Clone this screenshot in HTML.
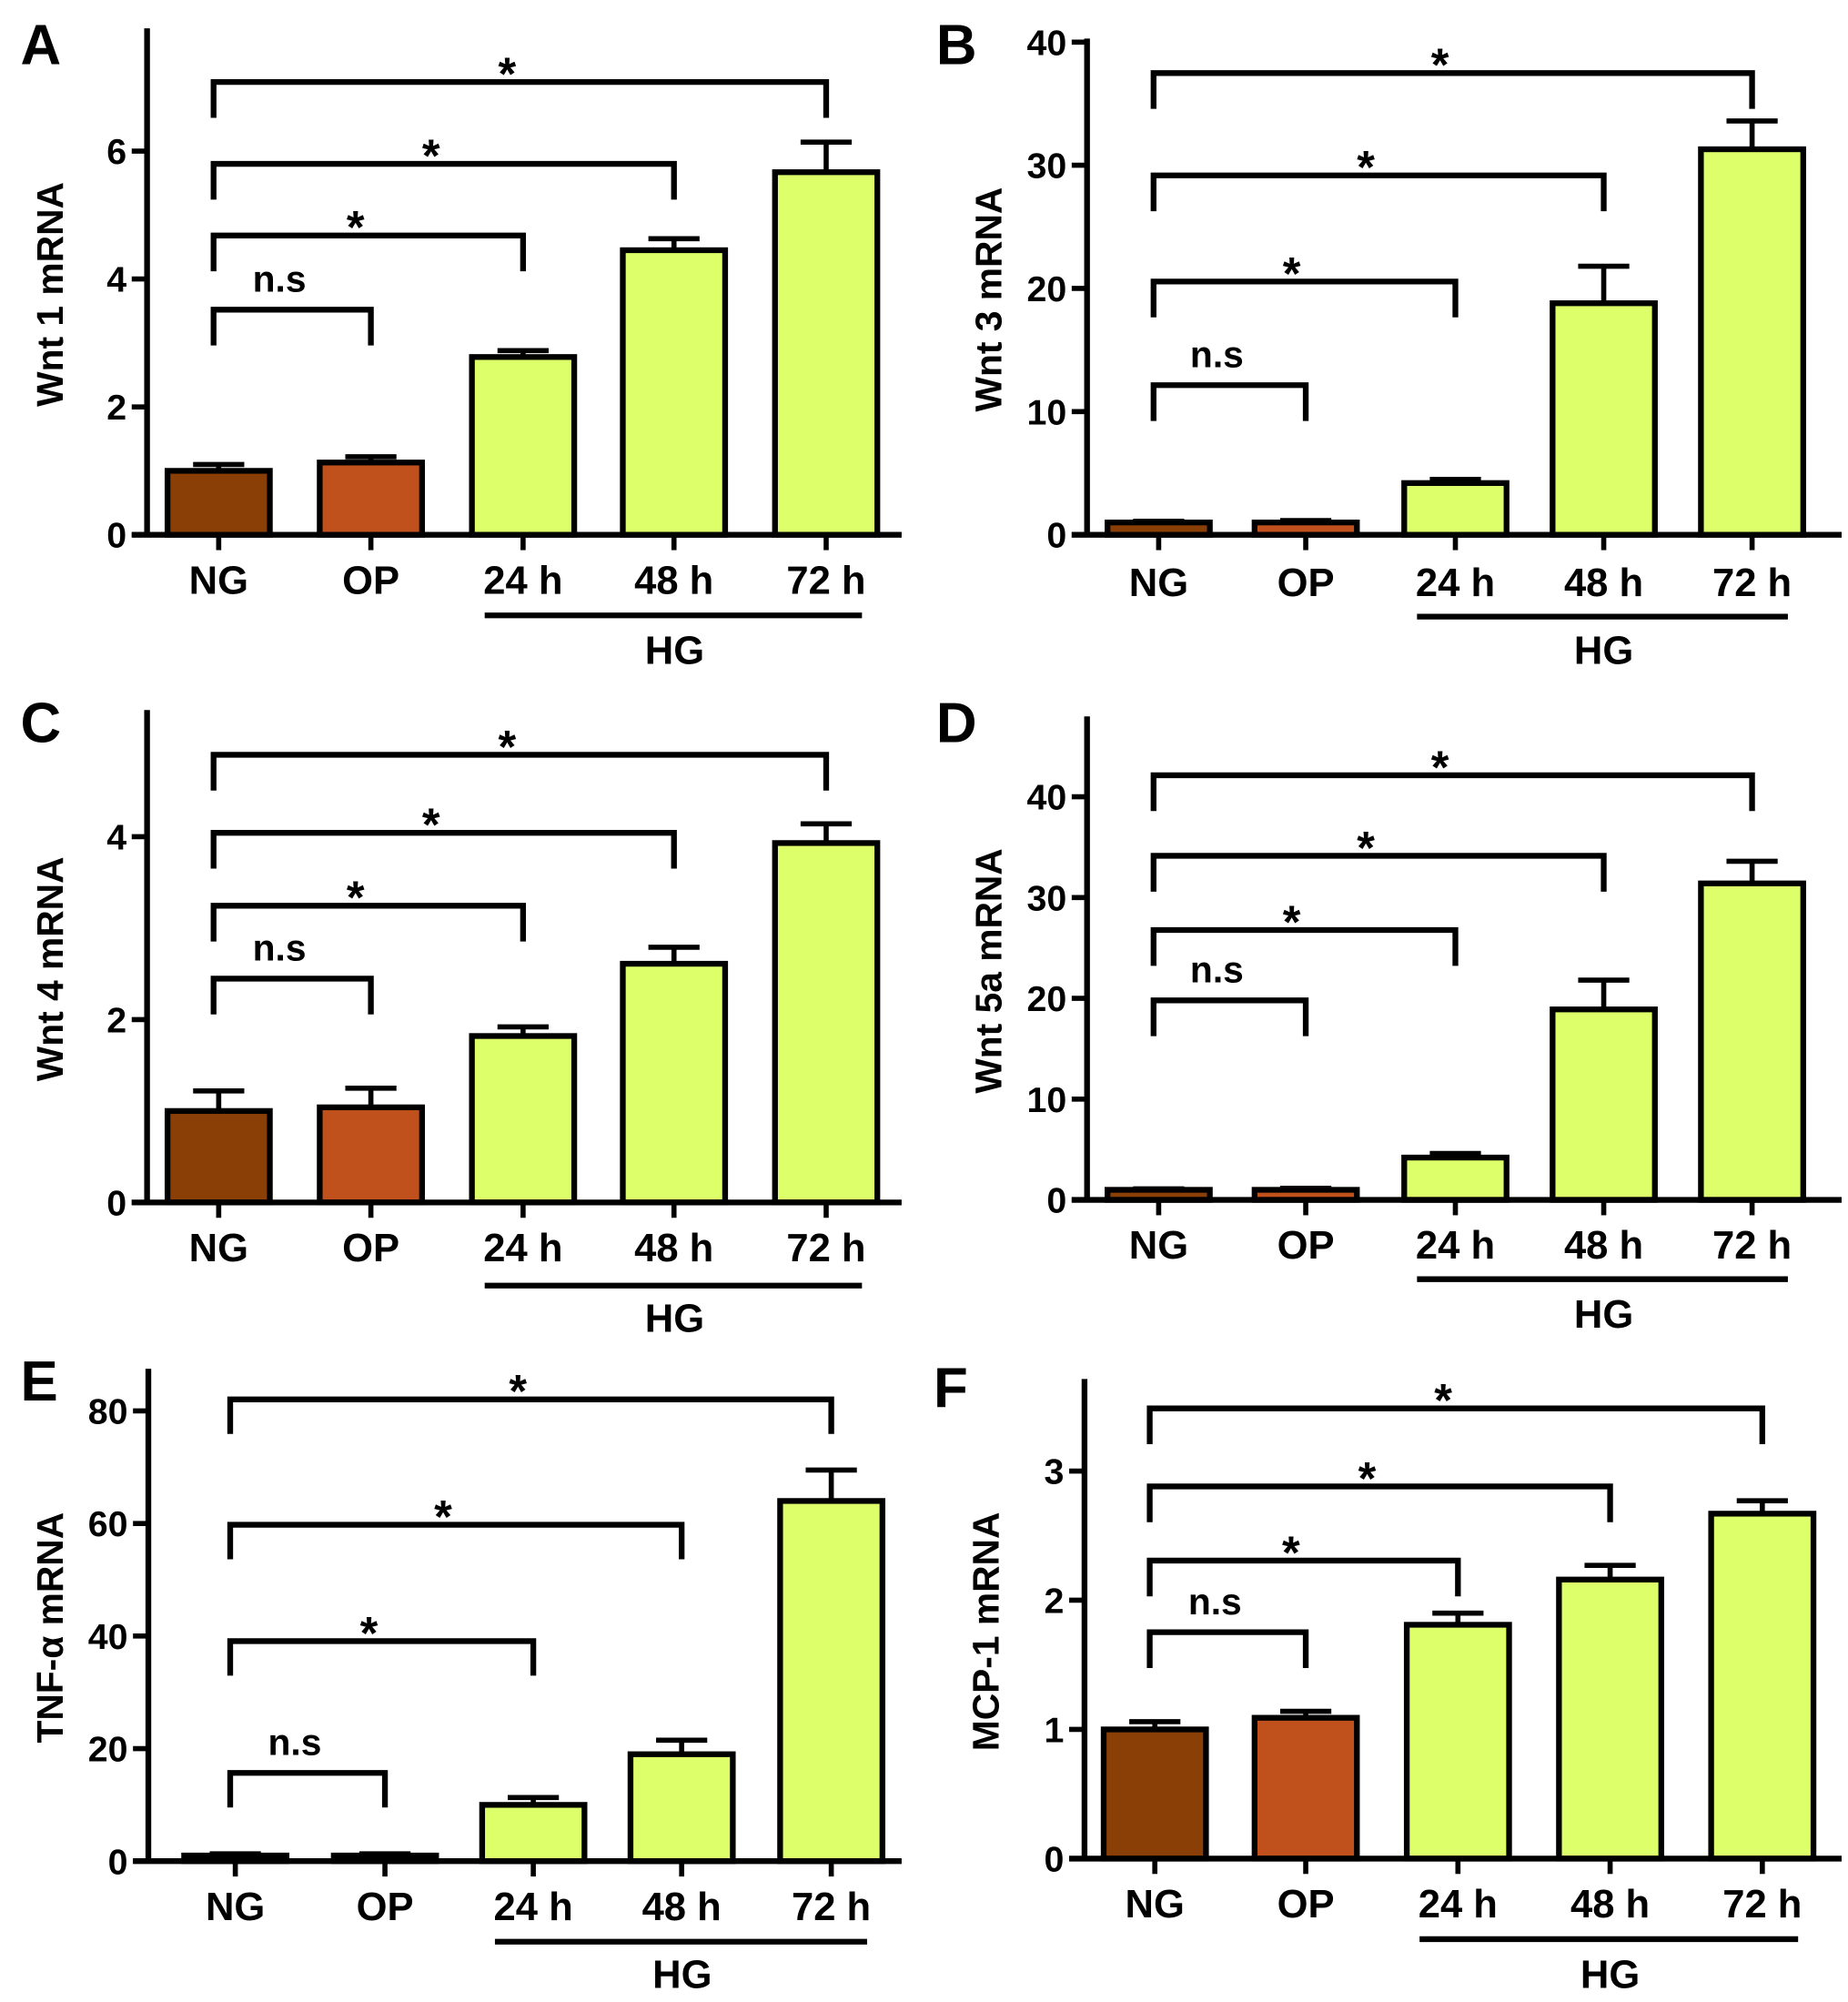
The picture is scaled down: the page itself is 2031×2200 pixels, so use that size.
<!DOCTYPE html>
<html><head><meta charset="utf-8"><style>
html,body{margin:0;padding:0;background:#fff}
svg{display:block}
text{font-family:"Liberation Sans",sans-serif;font-weight:bold;fill:#000}
</style></head><body>
<svg id="fig" width="2031" height="2200" viewBox="0 0 1445 1565" xmlns="http://www.w3.org/2000/svg"></svg>
<script>
const categories = ["NG","OP","24 h","48 h","72 h"];
const valuesA = [1.0,1.13,2.78,4.45,5.67];
const errorsA = [1.1,1.22,2.88,4.63,6.14];
const valuesB = [1.0,1.0,4.2,18.8,31.3];
const errorsB = [1.1,1.15,4.5,21.8,33.6];
const valuesC = [1.0,1.04,1.82,2.61,3.93];
const errorsC = [1.22,1.25,1.92,2.79,4.14];
const valuesD = [1.0,1.0,4.2,18.9,31.4];
const errorsD = [1.1,1.15,4.6,21.8,33.6];
const valuesE = [1.0,1.0,10,19,64];
const errorsE = [1.3,1.3,11.3,21.5,69.5];
const valuesF = [1.0,1.09,1.81,2.16,2.67];
const errorsF = [1.06,1.14,1.9,2.27,2.77];
const ticksA = [0,2,4,6], ticksB=[0,10,20,30,40], ticksC=[0,2,4], ticksD=[0,10,20,30,40], ticksE=[0,20,40,60,80], ticksF=[0,1,2,3];
const sigLabels = ["n.s","*","*","*"];

const panels = [
 {L:"A",title:"Wnt 1 mRNA",vals:valuesA,errs:errorsA,ticks:ticksA,ax:115,top:22,base:418,ppu:50,xEnd:705,cx:[171,290,409,527,646],bw:80,lab:453,hgy:481,hg:508,br:[242,184,128,64],leg:28,ly:10,tl:88},
 {L:"B",title:"Wnt 3 mRNA",vals:valuesB,errs:errorsB,ticks:ticksB,ax:850,top:30,base:418,ppu:9.63,xEnd:1440,cx:[906,1021,1138,1254,1370],bw:80,lab:455,hgy:482,hg:508,br:[301,220,137,57],leg:28,ly:10,tl:822},
 {L:"C",title:"Wnt 4 mRNA",vals:valuesC,errs:errorsC,ticks:ticksC,ax:115,top:555,base:940,ppu:71.5,xEnd:705,cx:[171,290,409,527,646],bw:80,lab:975,hgy:1005,hg:1030,br:[765,708,651,590],leg:28,ly:540,tl:88},
 {L:"D",title:"Wnt 5a mRNA",vals:valuesD,errs:errorsD,ticks:ticksD,ax:850,top:560,base:938,ppu:7.88,xEnd:1440,cx:[906,1021,1138,1254,1370],bw:80,lab:973,hgy:1000,hg:1027,br:[782,727,669,606],leg:28,ly:540,tl:822},
 {L:"E",title:"TNF-α mRNA",vals:valuesE,errs:errorsE,ticks:ticksE,ax:116,top:1070,base:1455,ppu:4.4,xEnd:705,cx:[184,301,417,533,650],bw:80,lab:1490,hgy:1518,hg:1543,br:[1386,1283,1192,1094],leg:27,ly:1055,tl:88},
 {L:"F",title:"MCP-1 mRNA",vals:valuesF,errs:errorsF,ticks:ticksF,ax:848,top:1078,base:1453,ppu:101,xEnd:1440,cx:[903,1021,1140,1259,1378],bw:80,lab:1488,hgy:1516,hg:1543,br:[1276,1220,1162,1101],leg:28,ly:1060,tl:820}
];
const colors = ["#8a3f06","#c0511c","#dcff6a","#dcff6a","#dcff6a"];
const svg = document.getElementById('fig');
const NS = "http://www.w3.org/2000/svg";
function mk(tag, attrs, parent){const e=document.createElementNS(NS,tag);for(const k in attrs)e.setAttribute(k,attrs[k]);(parent||svg).appendChild(e);return e;}

panels.forEach(p=>{
  const g = mk('g',{});
  
  
  const y = v => p.base - v*p.ppu;
  const letter = mk('text',{x:p.L==="B"||p.L==="D"||p.L==="F"?p.ax-118:16,y:p.ly+40,'font-size':44},g);
  letter.textContent=p.L;
  
  
  const midY=(p.top+p.base)/2;
  const yt = mk('text',{x:0,y:0,'font-size':29,'text-anchor':'middle',transform:`translate(${p.tl - 39},${midY+10}) rotate(-90)`},g);
  yt.textContent=p.title;
  
  
  p.vals.forEach((v,i)=>{
    const cx=p.cx[i];
    const e=p.errs[i];
    const el=mk('line',{x1:cx,x2:cx,y1:y(v),y2:y(e),stroke:'#000','stroke-width':4},g);
    
    
    const cap=mk('line',{x1:cx-20,x2:cx+20,y1:y(e),y2:y(e),stroke:'#000','stroke-width':4},g);
    
    
    const r=mk('rect',{x:cx-p.bw/2,y:y(v),width:p.bw,height:Math.max(0,p.base-y(v)),fill:colors[i],stroke:'#000','stroke-width':4.5},g);
    
    
    const tk=mk('line',{x1:cx,x2:cx,y1:p.base,y2:p.base+12,stroke:'#000','stroke-width':4},g);
    
    
    const lt=mk('text',{x:cx,y:p.lab+11,'font-size':31,'text-anchor':'middle'},g);
    lt.textContent=categories[i];
    
    
  });
  const ya=mk('line',{x1:p.ax,x2:p.ax,y1:p.top,y2:p.base+2,stroke:'#000','stroke-width':4.5},g);
  
  
  const xa=mk('line',{x1:p.ax-12,x2:p.xEnd,y1:p.base,y2:p.base,stroke:'#000','stroke-width':4.5},g);
  
  
  p.ticks.forEach(t=>{
    const tl=mk('line',{x1:p.ax-12,x2:p.ax,y1:y(t),y2:y(t),stroke:'#000','stroke-width':4},g);
    
    
    const tt=mk('text',{x:p.ax-16,y:y(t)+10,'font-size':28,'text-anchor':'end'},g);
    tt.textContent=t;
    
    
  });
  const hl=mk('line',{x1:p.cx[2]-30,x2:p.cx[4]+28,y1:p.hgy,y2:p.hgy,stroke:'#000','stroke-width':4.5},g);
  
  
  const ht=mk('text',{x:(p.cx[2]+p.cx[4])/2,y:p.hg+11,'font-size':31,'text-anchor':'middle'},g);
  ht.textContent="HG";
  
  
  p.br.forEach((by,k)=>{
    const x1=p.cx[0]-4, x2=p.cx[k+1];
    const b=mk('path',{d:`M${x1},${by+p.leg} V${by} H${x2} V${by+p.leg}`,fill:'none',stroke:'#000','stroke-width':4.5},g);
    
    
    const st=mk('text',{x:(x1+x2)/2-10,y:k===0?by-14:by+6,'font-size':k===0?29:36,'text-anchor':'middle'},g);
    st.textContent=sigLabels[k];
    
    
  });
});
</script>
</body></html>
